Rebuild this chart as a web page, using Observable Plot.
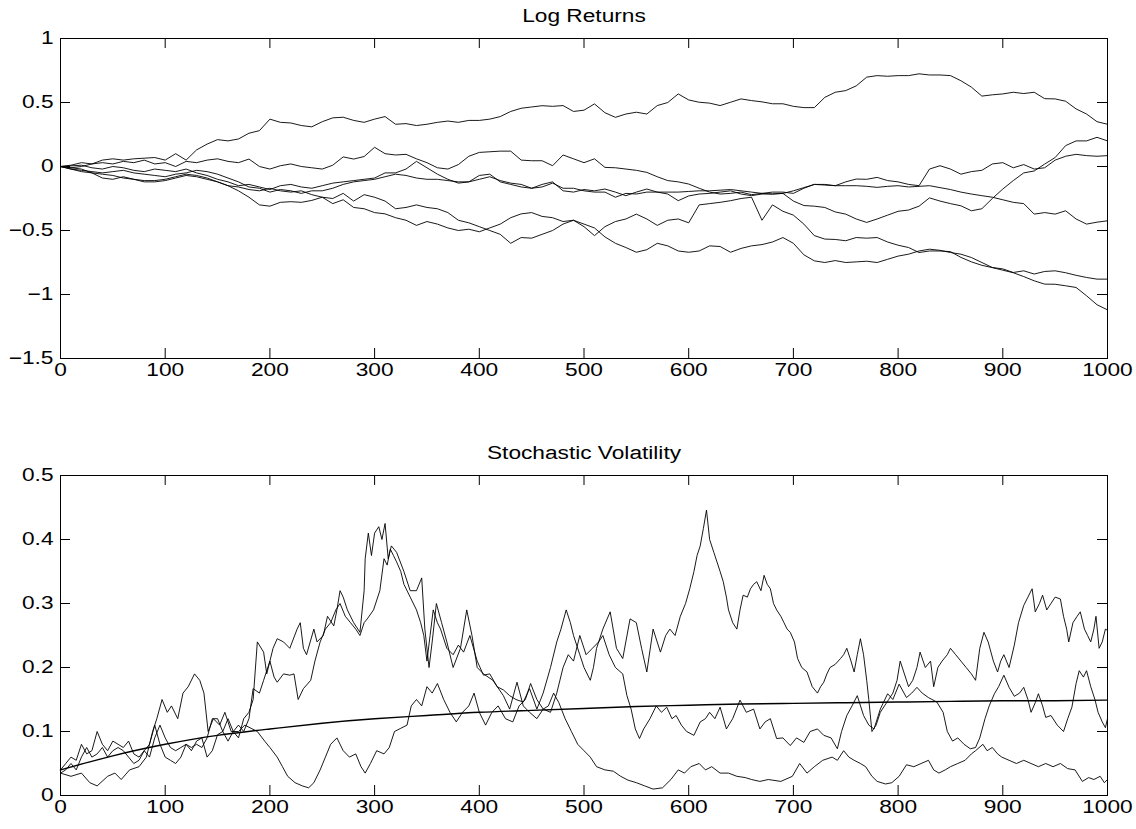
<!DOCTYPE html>
<html>
<head>
<meta charset="utf-8">
<script src="https://cdn.jsdelivr.net/npm/d3@7"></script>
<script src="https://cdn.jsdelivr.net/npm/@observablehq/plot@0.6"></script>
<style>
  html, body { margin: 0; padding: 0; background: #fff; }
  #chart { width: 1136px; }
  #chart svg { display: block; }
</style>
</head>
<body>
<div id="chart"></div>
<script>
// ---------- data ----------
// log-return paths, one value every 10 steps (t = 0, 10, ..., 1000)
const stepSize = 10;
const logA = [0,0.01,0.03,0.02,0.05,0.06,0.05,0.06,0.065,0.07,
0.05,0.1,0.05,0.13,0.175,0.21,0.2,0.215,0.26,0.28,
0.37,0.345,0.34,0.32,0.31,0.35,0.38,0.385,0.36,0.345,
0.37,0.39,0.33,0.335,0.32,0.33,0.345,0.355,0.345,0.36,
0.36,0.37,0.39,0.43,0.455,0.465,0.475,0.47,0.476,0.43,
0.44,0.489,0.42,0.384,0.41,0.424,0.41,0.476,0.5,0.567,
0.52,0.502,0.495,0.476,0.502,0.528,0.515,0.505,0.49,0.49,
0.47,0.46,0.46,0.54,0.58,0.593,0.63,0.698,0.71,0.705,
0.71,0.71,0.724,0.715,0.715,0.71,0.67,0.62,0.55,0.56,
0.567,0.58,0.57,0.58,0.53,0.528,0.51,0.45,0.41,0.35,
0.33];
const logB = [0,-0.01,0,0.02,0.03,0.02,0.04,0.03,0.05,0.02,
0.03,0,0.04,0.03,0.05,0.06,0.04,0.03,0.058,0,
-0.02,0.006,0.02,0,-0.01,-0.02,0.01,0.075,0.058,0.078,
0.15,0.1,0.09,0.095,0.06,0.03,-0.01,-0.02,0.015,0.08,
0.11,0.115,0.12,0.12,0.05,0.045,0.045,0.006,0.09,0.06,
0.03,0.06,-0.007,-0.01,-0.02,-0.03,-0.046,-0.08,-0.11,-0.12,
-0.137,-0.17,-0.2,-0.215,-0.21,-0.2,-0.22,-0.21,-0.215,-0.21,
-0.27,-0.305,-0.31,-0.32,-0.355,-0.372,-0.41,-0.437,-0.41,-0.38,
-0.35,-0.34,-0.31,-0.245,-0.27,-0.29,-0.307,-0.346,-0.33,-0.25,
-0.176,-0.11,-0.05,-0.035,0.019,0.07,0.163,0.2,0.2,0.228,
0.2];
const logC = [0,0.005,0.01,-0.01,-0.02,0,-0.01,-0.03,-0.04,-0.02,
-0.03,-0.04,-0.02,-0.05,-0.07,-0.1,-0.12,-0.15,-0.14,-0.16,
-0.18,-0.15,-0.14,-0.16,-0.17,-0.15,-0.13,-0.12,-0.11,-0.1,
-0.09,-0.05,-0.05,-0.02,0.04,-0.01,-0.06,-0.1,-0.13,-0.12,
-0.07,-0.06,-0.12,-0.14,-0.16,-0.17,-0.14,-0.12,-0.19,-0.2,
-0.18,-0.19,-0.176,-0.2,-0.228,-0.2,-0.176,-0.2,-0.215,-0.267,
-0.23,-0.215,-0.21,-0.2,-0.19,-0.215,-0.228,-0.215,-0.215,-0.21,
-0.19,-0.165,-0.14,-0.14,-0.15,-0.12,-0.098,-0.1,-0.085,-0.11,
-0.12,-0.14,-0.15,-0.02,0.006,-0.02,-0.06,-0.04,-0.03,0.02,
0.03,-0.01,0.015,-0.02,-0.01,0.05,0.08,0.095,0.085,0.08,
0.085];
const logD = [0,-0.02,-0.03,-0.04,-0.05,-0.04,-0.03,-0.05,-0.06,-0.07,
-0.08,-0.06,-0.05,-0.03,-0.04,-0.06,-0.09,-0.12,-0.16,-0.17,
-0.2,-0.18,-0.19,-0.21,-0.19,-0.19,-0.17,-0.14,-0.12,-0.11,
-0.1,-0.08,-0.06,-0.07,-0.09,-0.1,-0.1,-0.11,-0.12,-0.12,
-0.1,-0.08,-0.11,-0.13,-0.14,-0.17,-0.16,-0.13,-0.17,-0.17,
-0.19,-0.2,-0.2,-0.24,-0.21,-0.215,-0.2,-0.2,-0.2,-0.2,
-0.195,-0.19,-0.19,-0.185,-0.18,-0.19,-0.2,-0.21,-0.2,-0.2,
-0.21,-0.17,-0.14,-0.145,-0.15,-0.15,-0.15,-0.155,-0.163,-0.155,
-0.15,-0.16,-0.155,-0.15,-0.165,-0.18,-0.2,-0.215,-0.228,-0.24,
-0.26,-0.28,-0.29,-0.372,-0.36,-0.372,-0.346,-0.41,-0.45,-0.435,
-0.424];
const logE = [0,-0.02,-0.04,-0.05,-0.06,-0.07,-0.09,-0.1,-0.11,-0.11,
-0.1,-0.08,-0.06,-0.07,-0.09,-0.12,-0.15,-0.16,-0.18,-0.19,
-0.17,-0.19,-0.2,-0.19,-0.22,-0.24,-0.29,-0.26,-0.32,-0.33,
-0.36,-0.37,-0.4,-0.42,-0.46,-0.43,-0.45,-0.48,-0.5,-0.49,
-0.51,-0.48,-0.45,-0.4,-0.37,-0.36,-0.39,-0.4,-0.43,-0.42,
-0.45,-0.48,-0.55,-0.6,-0.633,-0.67,-0.65,-0.6,-0.62,-0.66,
-0.67,-0.66,-0.62,-0.625,-0.67,-0.64,-0.62,-0.61,-0.59,-0.555,
-0.6,-0.69,-0.737,-0.75,-0.735,-0.75,-0.745,-0.74,-0.75,-0.725,
-0.7,-0.685,-0.66,-0.646,-0.655,-0.672,-0.685,-0.711,-0.75,-0.789,
-0.8,-0.828,-0.815,-0.84,-0.82,-0.815,-0.83,-0.85,-0.867,-0.88,
-0.88];
const logF = [0,-0.01,-0.02,-0.05,-0.09,-0.1,-0.08,-0.1,-0.12,-0.12,
-0.11,-0.09,-0.07,-0.08,-0.1,-0.12,-0.15,-0.19,-0.24,-0.3,
-0.31,-0.28,-0.275,-0.28,-0.265,-0.24,-0.25,-0.21,-0.27,-0.22,
-0.24,-0.27,-0.33,-0.32,-0.3,-0.32,-0.33,-0.36,-0.42,-0.44,
-0.47,-0.5,-0.53,-0.6,-0.555,-0.56,-0.53,-0.5,-0.45,-0.42,
-0.47,-0.54,-0.47,-0.43,-0.41,-0.372,-0.41,-0.46,-0.42,-0.41,
-0.44,-0.3,-0.29,-0.28,-0.267,-0.25,-0.24,-0.42,-0.3,-0.35,
-0.38,-0.45,-0.54,-0.567,-0.57,-0.58,-0.555,-0.56,-0.555,-0.59,
-0.615,-0.633,-0.672,-0.66,-0.66,-0.665,-0.71,-0.745,-0.772,-0.79,
-0.81,-0.83,-0.86,-0.893,-0.919,-0.92,-0.932,-0.945,-1.01,-1.08,
-1.12];

// stochastic volatility paths: [time, value]
const volLow = [[0,0.035],[10,0.03],[20,0.035],[28,0.02],[35,0.015],[45,0.03],[52,0.035],[58,0.025],[66,0.04],[75,0.045],[82,0.06],[88,0.1],[92,0.12],[97,0.15],[102,0.13],[106,0.14],[112,0.12],[117,0.16],[122,0.17],[128,0.19],[133,0.18],[137,0.16],[141,0.1],[146,0.12],[152,0.11],[157,0.13],[163,0.1],[170,0.1],[176,0.11],[182,0.105],[188,0.1],[195,0.085],[200,0.075],[207,0.06],[212,0.045],[217,0.03],[224,0.02],[231,0.015],[237,0.012],[242,0.02],[248,0.04],[253,0.06],[258,0.08],[264,0.09],[270,0.07],[276,0.06],[282,0.065],[287,0.045],[291,0.035],[296,0.05],[302,0.07],[309,0.065],[314,0.075],[319,0.1],[325,0.105],[331,0.11],[335,0.14],[340,0.15],[345,0.14],[350,0.17],[355,0.16],[360,0.175],[366,0.15],[372,0.13],[378,0.115],[384,0.13],[390,0.14],[395,0.16],[400,0.13],[406,0.11],[412,0.13],[418,0.14],[425,0.12],[432,0.115],[438,0.14],[444,0.15],[449,0.175],[455,0.15],[461,0.135],[466,0.14],[471,0.16],[476,0.145],[482,0.12],[488,0.1],[494,0.08],[500,0.07],[506,0.06],[512,0.045],[520,0.04],[528,0.038],[535,0.03],[542,0.024],[550,0.02],[558,0.015],[566,0.01],[575,0.012],[583,0.025],[590,0.04],[596,0.035],[602,0.045],[610,0.05],[616,0.04],[622,0.045],[630,0.035],[638,0.035],[646,0.03],[654,0.028],[660,0.025],[668,0.022],[676,0.025],[688,0.022],[699,0.03],[706,0.05],[713,0.035],[720,0.045],[728,0.055],[737,0.06],[742,0.055],[748,0.07],[753,0.06],[758,0.055],[764,0.05],[769,0.045],[775,0.03],[780,0.022],[788,0.018],[794,0.02],[801,0.03],[808,0.048],[815,0.045],[822,0.05],[829,0.055],[834,0.04],[839,0.035],[845,0.04],[850,0.045],[857,0.05],[864,0.055],[870,0.065],[874,0.07],[881,0.08],[885,0.07],[890,0.075],[895,0.065],[899,0.06],[906,0.055],[913,0.05],[920,0.055],[927,0.05],[934,0.045],[941,0.05],[948,0.045],[955,0.05],[962,0.042],[969,0.04],[976,0.022],[982,0.028],[987,0.025],[993,0.03],[997,0.02],[1000,0.025]];

const volMid = [[0,0.04],[5,0.05],[10,0.06],[15,0.055],[20,0.08],[25,0.065],[30,0.07],[35,0.1],[40,0.08],[45,0.07],[50,0.085],[55,0.08],[60,0.075],[65,0.085],[70,0.065],[75,0.06],[80,0.07],[85,0.08],[90,0.11],[95,0.08],[100,0.06],[105,0.055],[110,0.05],[115,0.06],[120,0.08],[125,0.075],[130,0.08],[135,0.075],[140,0.09],[145,0.12],[150,0.12],[155,0.1],[160,0.12],[165,0.1],[170,0.09],[175,0.12],[180,0.13],[184,0.15],[188,0.24],[194,0.224],[197,0.19],[203,0.23],[207,0.245],[213,0.24],[219,0.23],[226,0.26],[229,0.27],[232,0.23],[235,0.22],[242,0.26],[245,0.24],[251,0.25],[255,0.28],[261,0.265],[264,0.29],[267,0.32],[270,0.31],[274,0.29],[280,0.27],[286,0.255],[290,0.32],[291,0.37],[294,0.41],[297,0.375],[300,0.41],[304,0.42],[307,0.4],[310,0.425],[313,0.37],[316,0.39],[321,0.38],[328,0.35],[334,0.32],[340,0.32],[345,0.34],[348,0.26],[352,0.2],[355,0.24],[359,0.3],[364,0.27],[369,0.24],[375,0.2],[382,0.23],[388,0.29],[393,0.25],[398,0.2],[404,0.19],[413,0.18],[423,0.156],[429,0.135],[436,0.177],[442,0.14],[448,0.13],[455,0.12],[461,0.135],[468,0.13],[474,0.16],[480,0.2],[485,0.22],[490,0.21],[496,0.25],[502,0.22],[508,0.23],[514,0.24],[518,0.25],[524,0.22],[530,0.2],[537,0.19],[541,0.156],[545,0.135],[549,0.104],[553,0.089],[557,0.104],[563,0.12],[569,0.14],[574,0.13],[579,0.138],[584,0.12],[588,0.125],[593,0.11],[598,0.1],[605,0.094],[611,0.115],[616,0.12],[620,0.13],[625,0.12],[630,0.138],[636,0.104],[642,0.12],[649,0.149],[655,0.13],[662,0.135],[668,0.104],[673,0.115],[678,0.12],[684,0.089],[690,0.09],[697,0.078],[703,0.09],[710,0.083],[716,0.1],[723,0.104],[729,0.094],[736,0.09],[742,0.073],[746,0.1],[751,0.125],[756,0.14],[761,0.156],[767,0.125],[772,0.11],[777,0.104],[783,0.135],[790,0.159],[795,0.15],[801,0.174],[808,0.153],[813,0.16],[818,0.169],[823,0.16],[829,0.153],[837,0.146],[843,0.13],[847,0.1],[852,0.085],[857,0.09],[863,0.08],[869,0.073],[874,0.075],[878,0.09],[883,0.12],[887,0.14],[892,0.159],[896,0.17],[901,0.188],[906,0.169],[911,0.155],[916,0.16],[920,0.169],[924,0.15],[927,0.13],[931,0.145],[934,0.159],[938,0.14],[941,0.122],[946,0.125],[952,0.11],[958,0.1],[962,0.12],[966,0.138],[970,0.175],[973,0.195],[977,0.185],[980,0.195],[984,0.17],[988,0.15],[991,0.13],[995,0.115],[998,0.106],[1000,0.12]];

const volHigh = [[0,0.035],[5,0.04],[10,0.05],[15,0.04],[20,0.06],[25,0.075],[30,0.06],[35,0.065],[40,0.075],[45,0.06],[50,0.07],[55,0.075],[60,0.07],[65,0.06],[70,0.05],[75,0.055],[80,0.07],[85,0.06],[90,0.09],[95,0.11],[100,0.09],[105,0.075],[110,0.07],[115,0.075],[120,0.08],[125,0.07],[130,0.085],[135,0.09],[140,0.06],[145,0.07],[150,0.095],[155,0.1],[160,0.085],[165,0.1],[170,0.11],[175,0.1],[180,0.12],[184,0.167],[190,0.16],[194,0.18],[200,0.21],[204,0.185],[207,0.177],[213,0.19],[219,0.188],[223,0.19],[227,0.15],[232,0.167],[239,0.18],[243,0.21],[248,0.24],[253,0.26],[258,0.27],[263,0.29],[267,0.3],[272,0.28],[277,0.27],[282,0.26],[286,0.25],[290,0.27],[293,0.276],[299,0.29],[305,0.32],[309,0.37],[312,0.36],[315,0.385],[318,0.375],[321,0.365],[325,0.35],[328,0.33],[334,0.31],[340,0.29],[344,0.27],[347,0.25],[350,0.21],[353,0.25],[356,0.29],[360,0.27],[363,0.26],[369,0.23],[375,0.22],[380,0.235],[385,0.224],[391,0.25],[398,0.21],[404,0.188],[410,0.19],[417,0.17],[423,0.165],[429,0.156],[435,0.15],[442,0.146],[448,0.167],[455,0.135],[461,0.16],[468,0.2],[474,0.24],[478,0.26],[483,0.29],[487,0.27],[490,0.25],[496,0.22],[500,0.2],[506,0.18],[509,0.2],[512,0.23],[518,0.26],[525,0.287],[531,0.23],[537,0.214],[544,0.276],[550,0.27],[555,0.23],[560,0.193],[566,0.26],[573,0.224],[578,0.25],[582,0.26],[587,0.25],[592,0.28],[597,0.3],[601,0.323],[605,0.35],[608,0.375],[611,0.39],[614,0.417],[617,0.446],[620,0.4],[624,0.38],[627,0.365],[630,0.35],[633,0.334],[636,0.31],[638,0.29],[642,0.27],[646,0.26],[649,0.29],[652,0.313],[656,0.31],[659,0.323],[662,0.33],[665,0.334],[669,0.32],[672,0.344],[675,0.33],[678,0.323],[681,0.3],[684,0.29],[688,0.28],[691,0.27],[694,0.26],[697,0.255],[701,0.24],[704,0.214],[708,0.2],[713,0.193],[718,0.17],[723,0.16],[726,0.17],[729,0.177],[732,0.19],[735,0.2],[740,0.205],[745,0.214],[748,0.22],[751,0.23],[755,0.21],[758,0.193],[761,0.22],[764,0.245],[767,0.22],[770,0.18],[772,0.15],[775,0.1],[779,0.11],[783,0.13],[787,0.14],[791,0.15],[795,0.16],[799,0.18],[802,0.21],[806,0.19],[810,0.17],[814,0.18],[818,0.2],[821,0.224],[826,0.2],[831,0.21],[834,0.17],[838,0.2],[842,0.21],[847,0.22],[850,0.23],[855,0.22],[860,0.21],[865,0.2],[870,0.19],[874,0.18],[878,0.23],[882,0.255],[886,0.24],[891,0.21],[895,0.193],[898,0.21],[901,0.22],[906,0.2],[911,0.235],[915,0.27],[920,0.297],[924,0.31],[928,0.323],[931,0.287],[935,0.3],[938,0.313],[942,0.29],[946,0.3],[950,0.31],[955,0.307],[958,0.28],[961,0.26],[963,0.24],[967,0.27],[971,0.28],[974,0.287],[978,0.26],[981,0.25],[984,0.24],[987,0.26],[989,0.28],[992,0.23],[995,0.24],[998,0.26],[1000,0.258]];

// expected volatility (smooth curve)
const meanTimes = [0,50,100,150,200,250,300,350,400,450,500,550,600,650,700,750,800,850,900,950,1000];
const meanVol = [0.04,0.062,0.08,0.094,0.104,0.113,0.12,0.125,0.13,0.133,0.136,0.139,0.141,0.143,0.144,0.145,0.146,0.147,0.148,0.148,0.149];

const xTicks = [0,100,200,300,400,500,600,700,800,900,1000];
const yTicksTop = [-1.5,-1,-0.5,0,0.5,1];
const yTicksBottom = [0,0.1,0.2,0.3,0.4,0.5];
const titles = ["Log Returns", "Stochastic Volatility"];

// ---------- build ----------
const W = 1136;
const fontFamily = "'Liberation Sans', Arial, Helvetica, sans-serif";
const tickLen = 10;
const minus = d => String(d).replace("-", "\u2212");

const logRows = [logA, logB, logC, logD, logE, logF].flatMap((vals, k) =>
  vals.map((v, i) => ({t: i * stepSize, v, s: k})));
const volRows = [volLow, volMid, volHigh].flatMap((pts, k) =>
  pts.map(([t, v]) => ({t, v, s: k})));
const meanRows = meanTimes.map((t, i) => ({t, v: meanVol[i]}));

function panel({height, mt, mb, yDomain, yTicks, title, lines}) {
  const ml = 60, mr = 29;
  const innerW = W - ml - mr, innerH = height - mt - mb;
  return Plot.plot({
    width: W, height,
    marginLeft: ml, marginRight: mr, marginTop: mt, marginBottom: mb,
    style: {fontFamily, fontSize: "18px", color: "#000", background: "#fff", overflow: "visible"},
    x: {domain: [0, 1000], label: null},
    y: {domain: yDomain, label: null},
    marks: [
      ...lines,
      Plot.ruleX(xTicks, {insetTop: innerH - tickLen, stroke: "#000", strokeWidth: 1}),
      Plot.ruleX(xTicks, {insetBottom: innerH - tickLen, stroke: "#000", strokeWidth: 1}),
      Plot.ruleY(yTicks, {insetRight: innerW - tickLen, stroke: "#000", strokeWidth: 1}),
      Plot.ruleY(yTicks, {insetLeft: innerW - tickLen, stroke: "#000", strokeWidth: 1}),
      Plot.frame({stroke: "#000", strokeWidth: 1}),
      Plot.axisX(xTicks, {anchor: "bottom", tickSize: 0, tickPadding: 5, fontSize: 18, tickFormat: minus, label: null}),
      Plot.axisY(yTicks, {anchor: "left", tickSize: 0, tickPadding: 7, fontSize: 18, tickFormat: minus, label: null}),
      Plot.text([title], {frameAnchor: "top", lineAnchor: "bottom", dy: -17, fontSize: 18, fill: "#000"})
    ]
  });
}

const topPanel = panel({
  height: 400, mt: 38, mb: 42, yDomain: [-1.5, 1], yTicks: yTicksTop, title: titles[0],
  lines: [Plot.line(logRows, {x: "t", y: "v", z: "s", stroke: "#000", strokeWidth: 0.9})]
});
const bottomPanel = panel({
  height: 429, mt: 75, mb: 34, yDomain: [0, 0.5], yTicks: yTicksBottom, title: titles[1],
  lines: [
    Plot.line(volRows, {x: "t", y: "v", z: "s", stroke: "#000", strokeWidth: 0.9}),
    Plot.line(meanRows, {x: "t", y: "v", stroke: "#000", strokeWidth: 1.4, curve: "natural"})
  ]
});

const host = document.getElementById("chart");
host.appendChild(topPanel);
host.appendChild(bottomPanel);

// the reference text is horizontally widened
for (const el of host.querySelectorAll("text")) {
  const w = el.getComputedTextLength();
  if (w > 0) {
    el.setAttribute("textLength", (w * 1.26).toFixed(1));
    el.setAttribute("lengthAdjust", "spacingAndGlyphs");
  }
}
</script>
</body>
</html>
